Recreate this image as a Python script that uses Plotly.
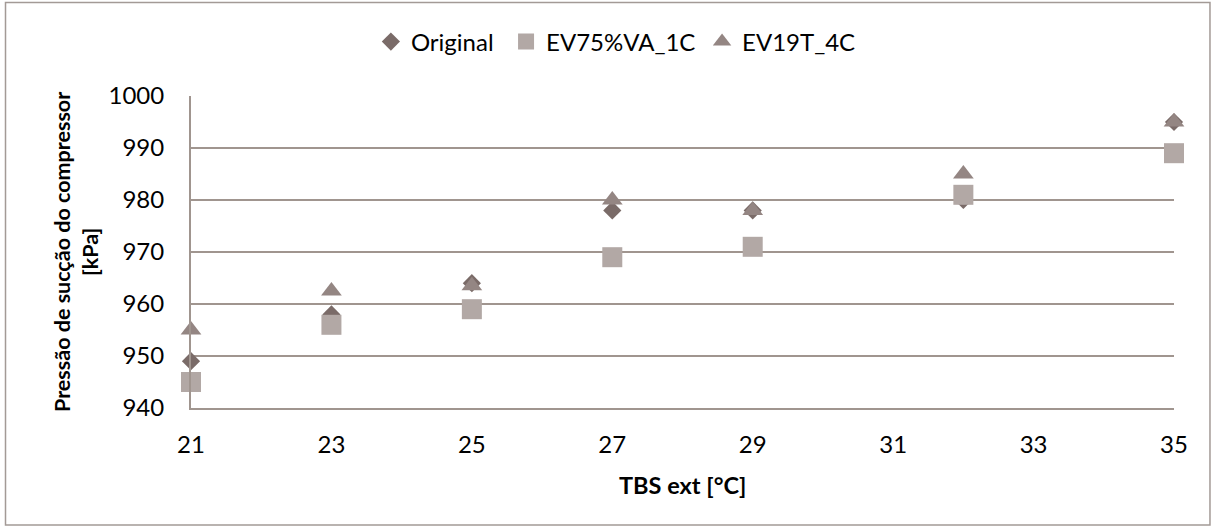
import plotly.graph_objects as go

x_vals = [21, 23, 25, 27, 29, 32, 35]
original = [949, 958, 964, 978, 978, 980, 995]
ev75 = [945, 956, 959, 969, 971, 981, 989]
ev19 = [955, 962.5, 963.5, 980, 978, 985, 995]

series_names = ["Original", "EV75%VA_1C", "EV19T_4C"]
x_ticks = [21, 23, 25, 27, 29, 31, 33, 35]
y_ticks = [940, 950, 960, 970, 980, 990, 1000]

FONT = "Lato, sans-serif"
GRID = "#a0958f"

fig = go.Figure()
fig.add_trace(go.Scatter(x=x_vals, y=original, mode="markers", name=series_names[0],
                         cliponaxis=False, legend="legend",
                         marker=dict(symbol="diamond", size=14, color="#7a6b68")))
fig.add_trace(go.Scatter(x=x_vals, y=ev75, mode="markers", name=series_names[1],
                         cliponaxis=False, legend="legend2",
                         marker=dict(symbol="square", size=20, color="#b2a8a5")))
fig.add_trace(go.Scatter(x=x_vals, y=ev19, mode="markers", name=series_names[2],
                         cliponaxis=False, legend="legend3",
                         marker=dict(symbol="triangle-up", size=18, color="#948683")))

leg_common = dict(orientation="h", xanchor="left", y=1.173, yanchor="middle",
                  font=dict(family=FONT, size=24, color="black"),
                  itemwidth=30, bgcolor="rgba(0,0,0,0)", borderwidth=0)

fig.update_layout(
    width=1215, height=528,
    margin=dict(l=191, r=41, t=96, b=120),
    paper_bgcolor="white", plot_bgcolor="white",
    font=dict(family=FONT, size=24, color="black"),
    showlegend=True,
    legend=dict(x=0.183, **leg_common),
    legend2=dict(x=0.3205, **leg_common),
    legend3=dict(x=0.5199, **leg_common),
    xaxis=dict(range=[21, 35], tickvals=x_ticks, ticktext=[str(v) for v in x_ticks],
               showgrid=False, zeroline=False, showline=True, linecolor=GRID, linewidth=2,
               ticks="", ticklabelstandoff=14, tickfont=dict(family=FONT, size=24)),
    yaxis=dict(range=[940, 1000], tickvals=y_ticks, ticktext=[str(v) for v in y_ticks],
               showgrid=True, gridcolor=GRID, gridwidth=2, zeroline=False,
               showline=True, linecolor=GRID, linewidth=2, ticks="",
               ticklabelstandoff=20, tickfont=dict(family=FONT, size=24)),
)

fig.add_annotation(text="<b>Pressão de sucção do compressor<br>[kPa]</b>",
                   xref="paper", yref="paper", x=-0.117, y=0.5, textangle=-90,
                   showarrow=False, font=dict(family=FONT, size=21.5, color="black"),
                   xanchor="center", yanchor="middle")
fig.add_annotation(text="<b>TBS ext [°C]</b>", xref="paper", yref="paper",
                   x=0.5, y=-0.247, showarrow=False,
                   font=dict(family=FONT, size=23.5, color="black"),
                   xanchor="center", yanchor="middle")

fig.add_shape(type="rect", xref="paper", yref="paper",
              x0=-0.1887, x1=1.0366, y0=-0.375, y1=1.2997,
              line=dict(color="#a39a96", width=1.5), fillcolor="rgba(0,0,0,0)", layer="below")

fig.write_html("out.html")
